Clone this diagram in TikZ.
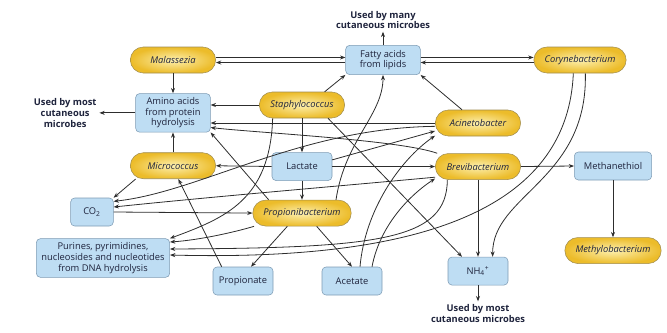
\documentclass[tikz,border=0pt]{standalone}
\usepackage{fontspec}
\setmainfont{Open Sans}
\usepackage{tikz}
\usetikzlibrary{arrows.meta, positioning, calc}
\definecolor{poolblue}{RGB}{190,221,243}
\definecolor{pooledge}{RGB}{125,155,180}
\definecolor{buglight}{RGB}{253,240,175}
\definecolor{bugdark}{RGB}{236,188,42}
\definecolor{bugedge}{RGB}{160,140,80}
\definecolor{linegray}{RGB}{45,45,45}
\definecolor{textdark}{RGB}{30,35,60}
\tikzstyle{bug} = [rectangle, rounded corners=9.75pt, minimum width=64pt, minimum height=19.5pt, inner xsep=8pt, draw=bugedge, inner color=buglight, outer color=bugdark, font=\fontsize{7}{8}\selectfont\itshape, text=textdark]
\tikzstyle{pool} = [rectangle, rounded corners=3pt, minimum width=45pt, minimum height=21pt, align=center, inner sep=2pt, draw=pooledge, fill=poolblue, font=\fontsize{7}{8}\selectfont, text=textdark]
\tikzstyle{use} = [align=center, inner sep=2pt, font=\fontsize{7}{8}\selectfont\bfseries, text=textdark]
\tikzstyle{arrow} = [line width=0.6pt, draw=linegray, -{Stealth[length=4pt,width=3pt]}]

\begin{document}
\begin{tikzpicture}[x=0.75pt, y=-0.75pt]
      \useasboundingbox (0,0) rectangle (667,332);
      \node[bug] (malassezia) at (173,60) {Malassezia};
      \node[pool, minimum width=56pt, minimum height=22pt] (fatty) at (383,60) {Fatty acids\\from lipids};
      \node[bug, minimum width=68pt] (coryne) at (580,60) {Corynebacterium};
      \node[use, above=10pt of fatty] (usedmany) {Used by many\\cutaneous microbes};

      \node[pool, minimum width=56pt, minimum height=29pt, below=15pt of malassezia] (amino) {Amino acids\\from protein\\hydrolysis};
      \node[use, left=27pt of amino] (usedleft) {Used by most\\cutaneous\\microbes};
      \node[bug] (staph) at (302,105) {Staphylococcus};
      \node[bug] (acineto) at (478,123) {Acinetobacter};

      \node[bug, below=15pt of amino] (micro) {Micrococcus};
      \node[pool, below=25.5pt of staph] (lactate) {Lactate};
      \node[bug, below=12.75pt of acineto] (brevi) {Brevibacterium};
      \node[pool, minimum width=58pt] (methane) at (613,166) {Methanethiol};

      \node[pool, minimum width=32pt] (co2) at (92,212) {CO\textsubscript{2}};
      \node[bug, below=14.25pt of lactate] (propioni) {Propionibacterium};
      \node[pool, minimum width=100pt, minimum height=29pt] (purines) at (103,258) {Purines, pyrimidines,\\nucleosides and nucleotides\\from DNA hydrolysis};
      \node[pool] (propionate) at (243,281) {Propionate};
      \node[pool] (acetate) at (352,281) {Acetate};
      \node[pool, below=57.75pt of brevi] (nh4) {NH\textsubscript{4}\textsuperscript{+}};
      \node[use, below=12pt of nh4] (usedbottom) {Used by most\\cutaneous microbes};
      \node[bug, minimum width=70pt, below=42.75pt of methane] (methylo) {Methylobacterium};

      \draw[arrow] ([yshift=1.9pt]malassezia.east) -- ([yshift=1.9pt]fatty.west);
      \draw[arrow] ([yshift=-1.9pt]fatty.west) -- ([yshift=-1.9pt]malassezia.east);
      \draw[arrow] ([yshift=1.9pt]fatty.east) -- ([yshift=1.9pt]coryne.west);
      \draw[arrow] ([yshift=-1.9pt]coryne.west) -- ([yshift=-1.9pt]fatty.east);
      \draw[arrow] (fatty.north) -- (usedmany.south);
      \draw[arrow] (malassezia.south) -- (amino.north);
      \draw[arrow] (amino.west) -- (usedleft.east);

      \draw[arrow] (staph.west) -- (staph.west -| amino.east);
      \draw[arrow] ([xshift=17pt]staph.north) -- (fatty.south west);
      \draw[arrow] (staph.south) -- (lactate.north);
      \draw[arrow] ([xshift=19.5pt]staph.south) -- ([xshift=-12pt]nh4.north);
      \draw[arrow] ([xshift=-22pt]staph.south) .. controls (270,200) and (225,218) .. (purines.north east);

      \draw[arrow] ([xshift=-12pt]acineto.north) -- (fatty.south east);
      \draw[arrow] (acineto.west) -- (acineto.west -| amino.east);
      \draw[arrow] ([yshift=-2.5pt]acineto.west) .. controls (300,128) and (200,192) .. ([yshift=8pt]co2.east);

      \draw[arrow] (micro.north) -- (amino.south);
      \draw[arrow] ([xshift=-28pt]micro.south) -- (co2.north east);
      \draw[arrow] (lactate.west) -- (micro.east);
      \draw[arrow] (lactate.east) -- (brevi.west);
      \draw[arrow] (lactate.south) -- (propioni.north);
      \draw[arrow] ([yshift=5pt]lactate.east) -- ([yshift=-6pt]acineto.west);

      \draw[arrow] (brevi.162) .. controls (400,140) and (260,133) .. ([yshift=-11pt]amino.east);
      \draw[arrow] ([yshift=-8pt]brevi.west) .. controls (340,186) and (220,196) .. ([yshift=3.75pt]co2.east);
      \draw[arrow] ([xshift=-23pt]brevi.south) .. controls (447,240) and (380,248) .. ([yshift=6.75pt]purines.east);
      \draw[arrow] (brevi.south) -- (nh4.north);
      \draw[arrow] (brevi.east) -- (methane.west);
      \draw[arrow] (methane.south) -- (methylo.north);
      \draw[arrow] (nh4.south) -- (usedbottom.north);

      \draw[arrow] ([xshift=-5pt]coryne.south) .. controls (568,200) and (440,262) .. ([yshift=2.25pt]purines.east);
      \draw[arrow] ([xshift=4pt]coryne.south) .. controls (588,180) and (492,195) .. ([xshift=11pt]nh4.north);

      \draw[arrow] (co2.east) -- (propioni.west);
      \draw[arrow] ([xshift=25.5pt]propioni.north) .. controls (345,140) and (383,115) .. (fatty.south);
      \draw[arrow] ([xshift=-25pt]propioni.north) -- (amino.south east);
      \draw[arrow] ([xshift=-36pt]propioni.south) .. controls (235,232) and (200,240) .. ([yshift=12pt]purines.east);
      \draw[arrow] ([xshift=-11pt]propioni.south) -- ([xshift=6pt]propionate.north);
      \draw[arrow] ([xshift=11pt]propioni.south) -- (acetate.north);

      \draw[arrow] ([xshift=-16pt]propionate.north) -- ([xshift=4pt]micro.south);
      \draw[arrow] ([xshift=6pt]acetate.north) .. controls (365,210) and (400,160) .. ([yshift=-9.5pt]acineto.west);
      \draw[arrow] ([xshift=15pt]acetate.north) .. controls (380,225) and (410,195) .. ([yshift=-9pt]brevi.west);
    \end{tikzpicture}
\end{document}
